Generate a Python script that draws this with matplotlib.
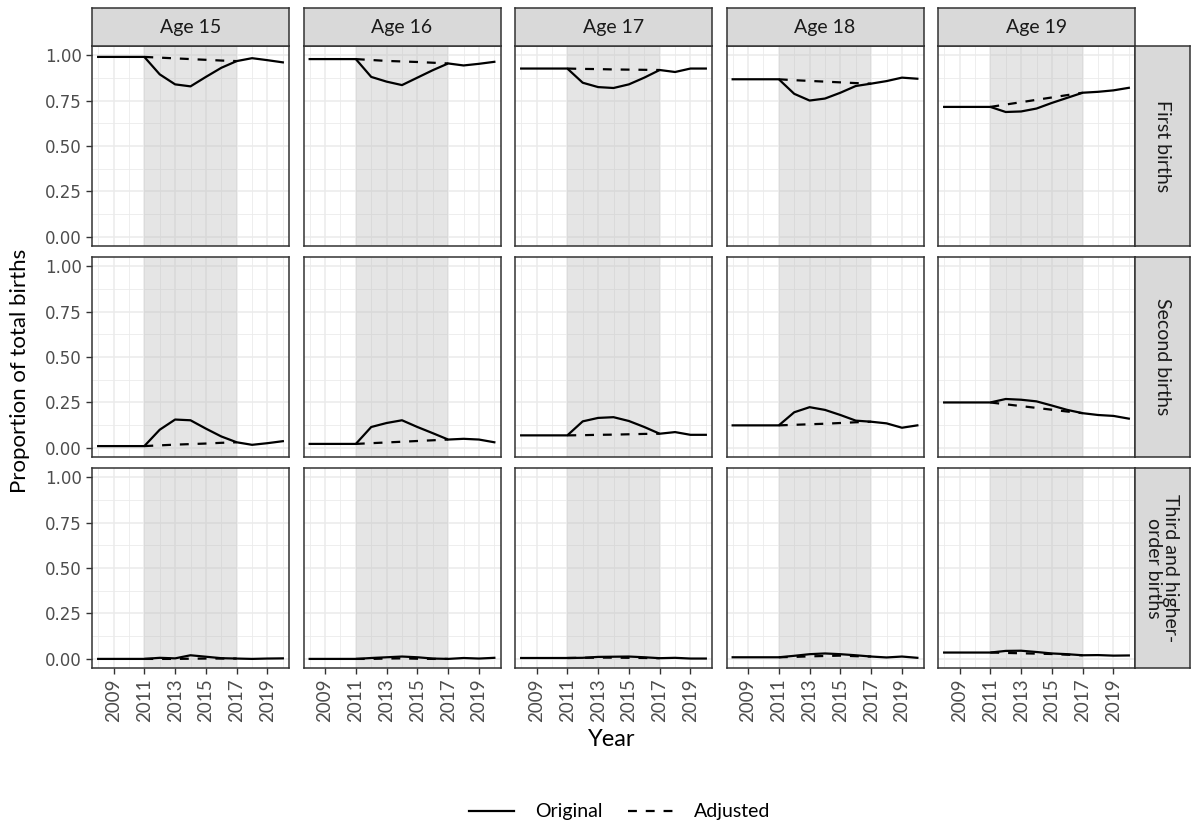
import matplotlib
matplotlib.use("Agg")
import matplotlib.pyplot as plt
from matplotlib.lines import Line2D
from matplotlib.ticker import MultipleLocator, FixedLocator

years = list(range(2008, 2021))
adj_years = list(range(2011, 2018))
ages = ["Age 15", "Age 16", "Age 17", "Age 18", "Age 19"]
orders = ["First births", "Second births", "Third and higher-\norder births"]
xtick_labels = ["2009", "2011", "2013", "2015", "2017", "2019"]
ytick_labels = ["0.00", "0.25", "0.50", "0.75", "1.00"]

# Original series (2008-2020)
first_orig = {
    "Age 15": [0.99, 0.99, 0.99, 0.99, 0.894, 0.839, 0.828, 0.88, 0.93, 0.967, 0.983, 0.972, 0.96],
    "Age 16": [0.978, 0.978, 0.978, 0.978, 0.88, 0.854, 0.835, 0.876, 0.917, 0.954, 0.943, 0.952, 0.963],
    "Age 17": [0.926, 0.926, 0.926, 0.926, 0.848, 0.824, 0.819, 0.839, 0.876, 0.918, 0.907, 0.926, 0.926],
    "Age 18": [0.867, 0.867, 0.867, 0.867, 0.787, 0.75, 0.761, 0.793, 0.83, 0.843, 0.857, 0.876, 0.87],
    "Age 19": [0.715, 0.715, 0.715, 0.715, 0.687, 0.69, 0.706, 0.737, 0.765, 0.793, 0.798, 0.806, 0.82],
}
second_orig = {
    "Age 15": [0.01, 0.01, 0.01, 0.01, 0.1, 0.156, 0.152, 0.106, 0.063, 0.031, 0.017, 0.026, 0.037],
    "Age 16": [0.022, 0.022, 0.022, 0.022, 0.115, 0.137, 0.152, 0.115, 0.081, 0.046, 0.05, 0.046, 0.031],
    "Age 17": [0.069, 0.069, 0.069, 0.069, 0.146, 0.165, 0.169, 0.148, 0.115, 0.078, 0.087, 0.072, 0.072],
    "Age 18": [0.124, 0.124, 0.124, 0.124, 0.196, 0.224, 0.209, 0.181, 0.15, 0.144, 0.135, 0.111, 0.124],
    "Age 19": [0.25, 0.25, 0.25, 0.25, 0.269, 0.265, 0.256, 0.233, 0.209, 0.191, 0.181, 0.176, 0.161],
}
third_orig = {
    "Age 15": [0.0, 0.0, 0.0, 0.0, 0.006, 0.003, 0.02, 0.012, 0.004, 0.002, 0.0, 0.002, 0.003],
    "Age 16": [0.0, 0.0, 0.0, 0.0, 0.005, 0.009, 0.013, 0.009, 0.002, 0.0, 0.005, 0.002, 0.006],
    "Age 17": [0.005, 0.005, 0.005, 0.005, 0.006, 0.011, 0.012, 0.013, 0.009, 0.004, 0.006, 0.002, 0.002],
    "Age 18": [0.009, 0.009, 0.009, 0.009, 0.017, 0.026, 0.03, 0.026, 0.02, 0.013, 0.008, 0.013, 0.006],
    "Age 19": [0.035, 0.035, 0.035, 0.035, 0.044, 0.045, 0.038, 0.03, 0.026, 0.02, 0.021, 0.018, 0.019],
}
# Adjusted series (2011-2017)
first_adj = {
    "Age 15": [0.99, 0.986, 0.982, 0.978, 0.974, 0.970, 0.967],
    "Age 16": [0.978, 0.973, 0.968, 0.965, 0.962, 0.958, 0.954],
    "Age 17": [0.926, 0.924, 0.923, 0.921, 0.920, 0.919, 0.918],
    "Age 18": [0.867, 0.862, 0.858, 0.854, 0.850, 0.846, 0.843],
    "Age 19": [0.715, 0.728, 0.741, 0.754, 0.767, 0.780, 0.793],
}
second_adj = {
    "Age 15": [0.01, 0.014, 0.018, 0.021, 0.024, 0.028, 0.031],
    "Age 16": [0.022, 0.026, 0.030, 0.034, 0.038, 0.042, 0.046],
    "Age 17": [0.069, 0.070, 0.072, 0.073, 0.075, 0.077, 0.078],
    "Age 18": [0.124, 0.127, 0.130, 0.133, 0.137, 0.141, 0.144],
    "Age 19": [0.25, 0.240, 0.230, 0.220, 0.210, 0.200, 0.191],
}
third_adj = {
    "Age 15": [0.0, 0.0, 0.0, 0.001, 0.002, 0.002, 0.002],
    "Age 16": [0.0, 0.0, 0.002, 0.003, 0.001, 0.0, 0.0],
    "Age 17": [0.005, 0.006, 0.007, 0.007, 0.006, 0.005, 0.004],
    "Age 18": [0.009, 0.011, 0.014, 0.016, 0.018, 0.015, 0.013],
    "Age 19": [0.035, 0.033, 0.031, 0.029, 0.027, 0.023, 0.02],
}
shade_start, shade_end = 2011, 2017

orig_rows = [first_orig, second_orig, third_orig]
adj_rows = [first_adj, second_adj, third_adj]

W, H = 1195, 827
fig = plt.figure(figsize=(W / 100, H / 100), dpi=100)

col_left = [92, 303.5, 515, 726.5, 938]
pw = 197
row_top = [46, 257, 468]
ph = 200
strip_top = 8
strip_right_w = 55

def fr(x, y, w, h):
    return [x / W, 1 - (y + h) / H, w / W, h / H]

tick_font = "DejaVu Sans"
text_font = ["Lato", "DejaVu Sans"]
border = "#333333"

for r in range(3):
    for c, age in enumerate(ages):
        ax = fig.add_axes(fr(col_left[c], row_top[r], pw, ph))
        ax.set_facecolor("white")
        ax.set_xlim(2007.6, 2020.4)
        ax.set_ylim(-0.05, 1.05)
        ax.xaxis.set_major_locator(FixedLocator([2009, 2011, 2013, 2015, 2017, 2019]))
        ax.xaxis.set_minor_locator(FixedLocator([2008, 2010, 2012, 2014, 2016, 2018, 2020]))
        ax.yaxis.set_major_locator(FixedLocator([0, 0.25, 0.5, 0.75, 1.0]))
        ax.yaxis.set_minor_locator(MultipleLocator(0.125))
        ax.grid(which="major", color="#EBEBEB", lw=1.1)
        ax.grid(which="minor", color="#EBEBEB", lw=0.6)
        ax.set_axisbelow(True)
        ax.axvspan(shade_start, shade_end, color="#BEBEBE", alpha=0.4, lw=0, zorder=1.5)
        ax.plot(years, orig_rows[r][age], color="black", lw=1.6, ls="-", zorder=3)
        ax.plot(adj_years, adj_rows[r][age], color="black", lw=1.6, ls=(0, (4, 4)), zorder=3)
        for s in ax.spines.values():
            s.set_color(border)
            s.set_linewidth(1.1)
        ax.tick_params(which="minor", length=0)
        ax.tick_params(which="major", length=4, color="#333333", width=1)
        if c == 0:
            ax.set_yticklabels(ytick_labels, fontsize=12, color="#4D4D4D", family=tick_font)
        else:
            ax.tick_params(axis="y", which="major", length=0, labelleft=False)
        if r == 2:
            ax.set_xticklabels(xtick_labels, rotation=90, fontsize=13.5,
                               color="#4D4D4D", family=text_font)
        else:
            ax.tick_params(axis="x", which="major", length=0, labelbottom=False)
        if r == 0:
            sax = fig.add_axes(fr(col_left[c], strip_top, pw, row_top[0] - strip_top))
            sax.set_facecolor("#D9D9D9")
            sax.set_xticks([]); sax.set_yticks([])
            for s in sax.spines.values():
                s.set_color(border); s.set_linewidth(1.1)
            sax.text(0.5, 0.5, age, ha="center", va="center", fontsize=14,
                     color="#1A1A1A", family=text_font, transform=sax.transAxes)
    rax = fig.add_axes(fr(col_left[-1] + pw, row_top[r], strip_right_w, ph))
    rax.set_facecolor("#D9D9D9")
    rax.set_xticks([]); rax.set_yticks([])
    for s in rax.spines.values():
        s.set_color(border); s.set_linewidth(1.1)
    rax.text(0.5, 0.5, orders[r], ha="center", va="center", rotation=-90, fontsize=14,
             color="#1A1A1A", family=text_font, transform=rax.transAxes, linespacing=1.0)

fig.text(20 / W, 1 - 371 / H, "Proportion of total births", rotation=90, ha="center", va="center",
         fontsize=16, family=text_font, color="black")
fig.text(612 / W, 1 - 739 / H, "Year", ha="center", va="center", fontsize=17,
         family=text_font, color="black")

handles = [Line2D([], [], color="black", lw=1.6, ls="-"),
           Line2D([], [], color="black", lw=1.6, ls=(0, (4, 4)))]
fig.legend(handles, ["Original", "Adjusted"], loc="center", bbox_to_anchor=(620 / W, 1 - 812 / H),
           ncol=2, frameon=False, prop={"family": text_font, "size": 14},
           handlelength=2.3, columnspacing=1.3, handletextpad=1.1)

fig.savefig("out.png", dpi=100)
